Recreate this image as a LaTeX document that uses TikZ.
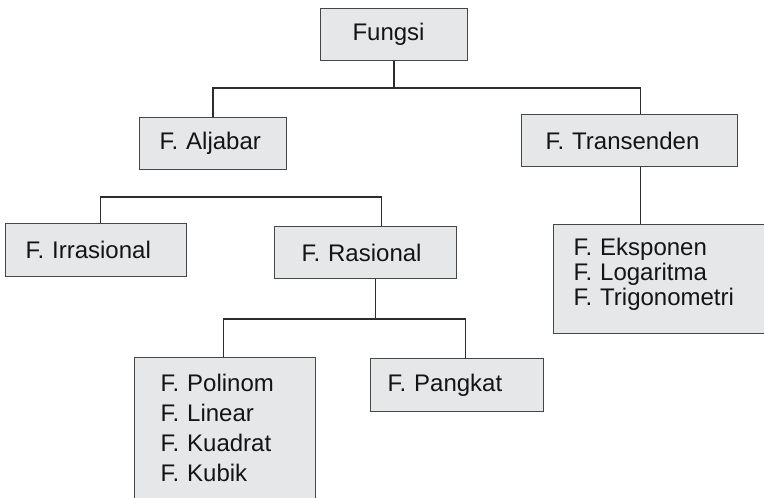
\documentclass[tikz,border=0pt]{standalone}
\usepackage{fontspec}
\setmainfont{Liberation Sans}
\usetikzlibrary{positioning, calc}
\definecolor{boxfill}{RGB}{230,231,233}
\definecolor{boxline}{RGB}{70,70,70}
\definecolor{linkline}{RGB}{45,45,45}

\begin{document}
\begin{tikzpicture}[x=1pt, y=-1pt, link/.style={-, linkline, line width=1.3pt}]
\clip (0,0) rectangle (764,498);
\begin{scope}[every node/.style={anchor=north west, draw=boxline, fill=boxfill, line width=1pt,
    font=\fontsize{24}{25}\selectfont, text=black!92, align=left, inner ysep=0pt, minimum height=52pt}]
    \node (fungsi) at (320,8) [text width=83pt, inner xsep=32pt] {Fungsi};
    \node (aljabar) at (139,117) [text width=107pt, inner xsep=20pt] {F. Aljabar};
    \node (transenden) at (521,114) [text width=168pt, inner xsep=24pt] {F. Transenden};
    \node (irrasional) at (5,223) [text width=141pt, inner xsep=20pt, minimum height=53pt] {F. Irrasional};
    \node (rasional) at (274,226) [text width=128pt, inner xsep=27pt] {F. Rasional};
    \node (eksponen) at (553,224) [text width=177pt, inner xsep=20pt, minimum height=109pt]
        {F. Eksponen\\F. Logaritma\\F. Trigonometri\rule[-14pt]{0pt}{0pt}};
    \node (polinom) at (134,357) [text width=129pt, inner xsep=26pt, inner ysep=17pt, minimum height=0pt,
        font=\fontsize{24}{30}\selectfont] {F. Polinom\\F. Linear\\F. Kuadrat\\F. Kubik};
    \node (pangkat) at (370,358) [text width=139pt, inner xsep=17pt, minimum height=53pt] {F. Pangkat};
\end{scope}

\draw[link] (fungsi.south) -- ++(0,28);
\draw[link] (aljabar.north) -- ++(0,-29) -| ([xshift=11pt]transenden.north);
\draw[link] ([xshift=11pt]transenden.south) -- ([xshift=11pt]transenden.south |- eksponen.north);
\draw[link] ([xshift=4.5pt]irrasional.north) -- ++(0,-26) -| ([xshift=16pt]rasional.north);
\draw[link] ([xshift=10pt]rasional.south) -- ++(0,41);
\draw[link] ([xshift=-1.5pt]polinom.north) -- ++(0,-38) -| ([xshift=8.5pt]pangkat.north);
\end{tikzpicture}
\end{document}
